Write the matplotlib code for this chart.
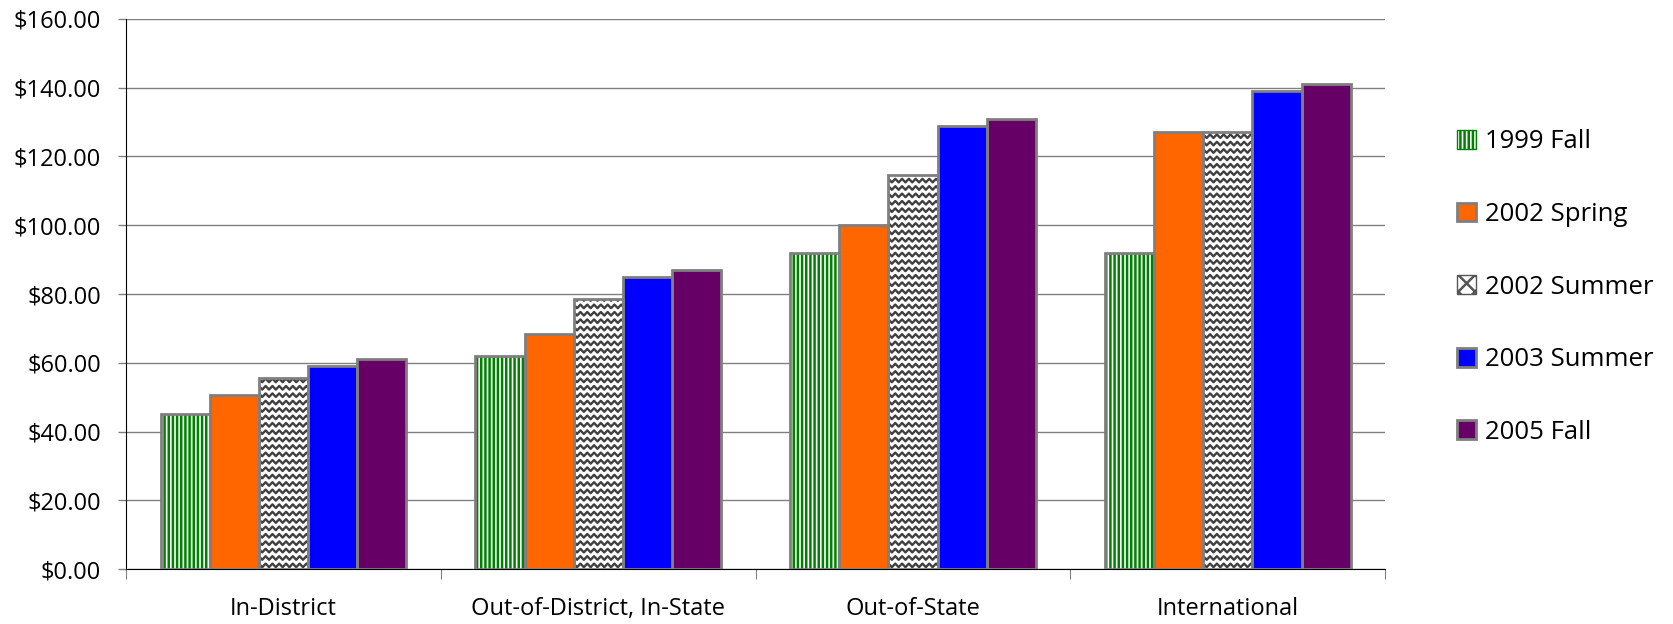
import numpy as np
import matplotlib
matplotlib.use("Agg")
import matplotlib.pyplot as plt
from matplotlib.patches import Patch

plt.rcParams['font.family'] = ['Open Sans', 'DejaVu Sans']
plt.rcParams['hatch.linewidth'] = 1.8

categories = ["In-District", "Out-of-District, In-State", "Out-of-State", "International"]
series = ["1999 Fall", "2002 Spring", "2002 Summer", "2003 Summer", "2005 Fall"]
fall_1999 = [45.0, 62.0, 92.0, 92.0]
spring_2002 = [50.5, 68.5, 100.0, 127.0]
summer_2002 = [55.5, 78.5, 114.5, 127.0]
summer_2003 = [59.0, 85.0, 129.0, 139.0]
fall_2005 = [61.0, 87.0, 131.0, 141.0]
values = [fall_1999, spring_2002, summer_2002, summer_2003, fall_2005]
yticks = [0, 20, 40, 60, 80, 100, 120, 140, 160]

colors = ["white", "#FF6600", "white", "#0000FF", "#660066"]
hatch_col = ["#008000", None, None, None, None]
edge = "#7F7F7F"

fig = plt.figure(figsize=(16.73, 6.24), dpi=100)
ax = fig.add_axes([0.0753, 0.088, 0.7527, 0.8816])

x = np.arange(len(categories))
n = len(series)
group = 0.78
w = group / n
ax.set_xlim(-0.5, len(categories) - 0.5)
ax.set_ylim(0, 160)

zig_bars = []
for i, (name, vals) in enumerate(zip(series, values)):
    pos = x - group / 2 + w * (i + 0.5)
    if hatch_col[i]:
        ax.bar(pos, vals, w, color=colors[i], edgecolor=hatch_col[i], hatch="||||",
               linewidth=0, zorder=2)
    else:
        b = ax.bar(pos, vals, w, color=colors[i], linewidth=0, zorder=2)
        if i == 2:
            zig_bars = list(b)
    ax.bar(pos, vals, w, fill=False, edgecolor=edge, linewidth=2, zorder=4)

# zigzag fill for 2002 Summer
fig.canvas.draw()
p0 = ax.transData.transform((0, 0))
p1 = ax.transData.transform((1, 1))
ux = p1[0] - p0[0]   # px per x-unit
uy = p1[1] - p0[1]   # px per dollar
period = 6.8 / ux
amp = 1.8 / uy
rowgap = 7.4 / uy
for patch in zig_bars:
    x0, wd, h = patch.get_x(), patch.get_width(), patch.get_height()
    xs = np.arange(x0 - period, x0 + wd + period, period / 2)
    offs = np.tile([amp, -amp], len(xs) // 2 + 1)[:len(xs)]
    yy = rowgap / 2
    while yy < h + rowgap:
        ln, = ax.plot(xs, yy + offs, color="#404040", lw=1.7, zorder=3)
        ln.set_clip_path(patch)
        yy += rowgap

ax.set_yticks(yticks)
ax.set_yticklabels([f"${v:.2f}" for v in yticks])
ax.yaxis.grid(True, color="#808080", lw=1)
ax.set_axisbelow(True)
ax.tick_params(axis="y", length=6, width=1, color="#808080", pad=12, labelsize=17)

ax.set_xticks(np.arange(len(categories) + 1) - 0.5)
ax.set_xticklabels([])
ax.set_xticks(x, minor=True)
ax.set_xticklabels(categories, minor=True)
ax.tick_params(axis="x", which="major", length=7, color="#808080")
ax.tick_params(axis="x", which="minor", length=0, pad=20, labelsize=17)

for s in ["top", "right"]:
    ax.spines[s].set_visible(False)
ax.spines["left"].set_color("black")
ax.spines["bottom"].set_color("black")

handles = [
    Patch(facecolor="white", edgecolor="#008000", hatch="||||", label=series[0]),
    Patch(facecolor=colors[1], edgecolor=edge, lw=2, label=series[1]),
    Patch(facecolor="white", edgecolor="#555555", hatch="xx", label=series[2]),
    Patch(facecolor=colors[3], edgecolor=edge, lw=2, label=series[3]),
    Patch(facecolor=colors[4], edgecolor=edge, lw=2, label=series[4]),
]
fig.legend(handles=handles, loc="center left", bbox_to_anchor=(0.857, 0.54),
           frameon=False, fontsize=18.5, handlelength=0.75, handleheight=0.75,
           handletextpad=0.35, labelspacing=1.85)

fig.savefig("out.png", dpi=100)
